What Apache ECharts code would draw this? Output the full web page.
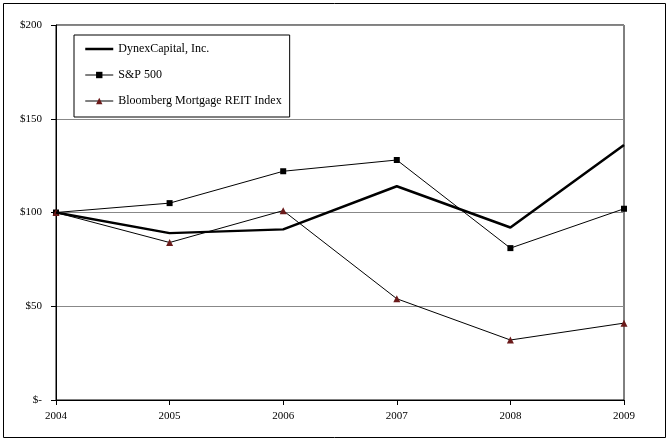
<!DOCTYPE html>
<html>
<head>
<meta charset="utf-8">
<script src="https://cdn.jsdelivr.net/npm/echarts@6/dist/echarts.min.js"></script>
<style>
  html, body { margin: 0; padding: 0; background: #fff; }
  #chart { width: 670px; height: 445px; }
</style>
</head>
<body>
<div id="chart"></div>
<script>
// data
const years = ["2004", "2005", "2006", "2007", "2008", "2009"];
const dynex = [100, 89, 91, 114, 92, 136];
const sp500 = [100, 105, 122, 128, 81, 102];
const reit = [100, 84, 101, 54, 32, 41];

const serif = "Liberation Serif";

const chart = echarts.init(document.getElementById("chart"));
chart.setOption({
  animation: false,
  backgroundColor: "#fff",
  textStyle: { fontFamily: serif },
  graphic: [
    {
      type: "rect",
      shape: { x: 3.5, y: 3.5, width: 662, height: 434 },
      style: { fill: "none", stroke: "#000", lineWidth: 1 },
      z: -1
    }
  ],
  grid: {
    left: 56,
    right: 46,
    top: 25,
    bottom: 45,
    show: true,
    borderColor: "#000",
    borderWidth: 1
  },
  legend: {
    orient: "vertical",
    left: 74,
    top: 35,
    padding: [8, 8, 10, 10],
    itemGap: 14,
    itemWidth: 28,
    itemHeight: 8,
    backgroundColor: "#fff",
    borderColor: "#000",
    borderWidth: 1,
    textStyle: { fontFamily: serif, fontSize: 12, color: "#000" },
    data: [
      {
        name: "DynexCapital, Inc.",
        itemStyle: { opacity: 0 },
        lineStyle: { width: 2.5, color: "#000" }
      },
      {
        name: "S&P 500",
        lineStyle: { width: 1, color: "#000" }
      },
      {
        name: "Bloomberg Mortgage REIT Index",
        lineStyle: { width: 1, color: "#000" }
      }
    ]
  },
  xAxis: {
    type: "category",
    data: years,
    boundaryGap: false,
    axisLine: { lineStyle: { color: "#000", width: 1 } },
    axisTick: { show: true, length: 5, inside: false, lineStyle: { color: "#000" } },
    axisLabel: { fontFamily: serif, fontSize: 11, color: "#000", margin: 11 },
    splitLine: { show: false }
  },
  yAxis: {
    type: "value",
    min: 0,
    max: 200,
    interval: 50,
    axisLine: { show: true, lineStyle: { color: "#000", width: 1 } },
    axisTick: { show: true, length: 5, lineStyle: { color: "#000" } },
    axisLabel: {
      fontFamily: serif,
      fontSize: 11,
      color: "#000",
      margin: 14,
      formatter: function (v) {
        return v === 0 ? "$-" : "$" + v;
      }
    },
    splitLine: { show: true, lineStyle: { color: "#888", width: 1 } }
  },
  series: [
    {
      name: "DynexCapital, Inc.",
      type: "line",
      data: dynex,
      symbol: "none",
      lineStyle: { color: "#000", width: 2.5 },
      itemStyle: { color: "#000" },
      z: 3
    },
    {
      name: "S&P 500",
      type: "line",
      data: sp500,
      symbol: "rect",
      symbolSize: 6,
      lineStyle: { color: "#000", width: 1 },
      itemStyle: { color: "#000" },
      z: 2
    },
    {
      name: "Bloomberg Mortgage REIT Index",
      type: "line",
      data: reit,
      symbol: "triangle",
      symbolSize: 7,
      lineStyle: { color: "#000", width: 1 },
      itemStyle: { color: "#6b1a1a" },
      z: 2
    }
  ]
});
</script>
</body>
</html>
